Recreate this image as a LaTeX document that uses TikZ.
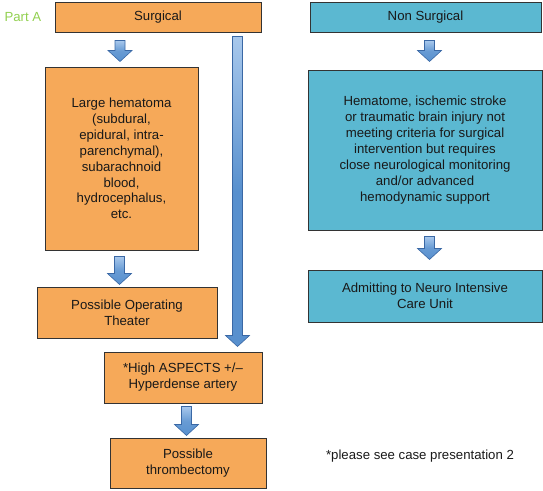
\documentclass[tikz,border=0pt]{standalone}
\usepackage{fontspec}
\setmainfont{Liberation Sans}
\usetikzlibrary{calc}
\definecolor{boxorange}{RGB}{246,169,89}
\definecolor{boxcyan}{RGB}{91,184,209}
\definecolor{arrowblue}{RGB}{88,144,206}
\definecolor{arrowlight}{RGB}{168,200,236}
\definecolor{arrowdark}{RGB}{58,104,165}
\definecolor{partgreen}{RGB}{146,208,80}
\tikzset{
 box/.style={draw=black!80, line width=1pt, inner sep=0pt, align=center,
   font=\fontsize{13.2}{15.9}\selectfont, text=black!90},
 orangebox/.style={box, fill=boxorange},
 cyanbox/.style={box, fill=boxcyan},
 blockarrow/.style={draw=arrowdark, line width=0.6pt, top color=arrowlight,
   bottom color=arrowblue, middle color=arrowblue!80!arrowlight},
 longarrow/.style={draw=arrowdark, line width=0.6pt, top color=arrowlight,
   bottom color=arrowblue, middle color=arrowblue},
}
\newcommand\blockarr[3][]{%
 \path[blockarrow,#1] let \p1=#2, \p2=#3 in
 (\x1-5pt,\y1) -- (\x1+5pt,\y1) -- (\x1+5pt,\y2+11pt) -- (\x1+12pt,\y2+11pt)
 -- (\x1,\y2) -- (\x1-12pt,\y2+11pt) -- (\x1-5pt,\y2+11pt) -- cycle;}
\begin{document}
\begin{tikzpicture}[x=1pt,y=-1pt]
\useasboundingbox (0,0) rectangle (543,490);
\node[anchor=west, text=partgreen, font=\fontsize{13.2}{15.9}\selectfont] (parta) at (1,17) {Part A};
\node[orangebox, minimum width=206, minimum height=30] (surg) at (158,17) {Surgical};
\node[cyanbox, minimum width=231, minimum height=30] (nonsurg) at (425.5,17) {Non Surgical};
\node[orangebox, minimum width=153, minimum height=183] (hema) at (121.5,158.5)
 {Large hematoma\\(subdural,\\epidural, intra-\\parenchymal),\\subarachnoid\\blood,\\hydrocephalus,\\etc.};
\node[orangebox, minimum width=180, minimum height=51] (pot) at (127,312.5)
 {Possible Operating\\Theater};
\node[orangebox, minimum width=158, minimum height=51] (high) at (183,377.5)
 {*High ASPECTS +/–\\Hyperdense artery};
\node[orangebox, minimum width=156, minimum height=50] (thromb) at (188,463)
 {Possible\\thrombectomy};
\node[cyanbox, minimum width=234, minimum height=160] (hemat) at (425,150)
 {Hematome, ischemic stroke\\or traumatic brain injury not\\meeting criteria for surgical\\intervention but requires\\close neurological monitoring\\and/or advanced\\hemodynamic support};
\node[cyanbox, minimum width=234, minimum height=52] (admit) at (425,296)
 {Admitting to Neuro Intensive\\Care Unit};
\node[font=\fontsize{13.2}{15.9}\selectfont, text=black!90] (note) at (420,456)
 {*please see case presentation 2};
% arrows
\blockarr{($(surg.south -| hema.north)+(-1.5,8)$)}{($(hema.north)+(-1.5,-5)$)}
\blockarr{($(hema.south)+(-2,6)$)}{($(pot.north -| hema.south)+(-2,-2)$)}
\blockarr[longarrow]{($(surg.south east)+(-24,4)$)}{($(surg.south east |- high.north)+(-24,-5)$)}
\blockarr{($(high.south -| thromb.north)+(-1.5,3)$)}{($(thromb.north)+(-1.5,-2)$)}
\blockarr{($(nonsurg.south -| hemat.north)+(4.5,8)$)}{($(hemat.north)+(4.5,-8)$)}
\blockarr{($(hemat.south)+(4.5,6)$)}{($(admit.north)+(4.5,-10)$)}
\end{tikzpicture}
\end{document}
